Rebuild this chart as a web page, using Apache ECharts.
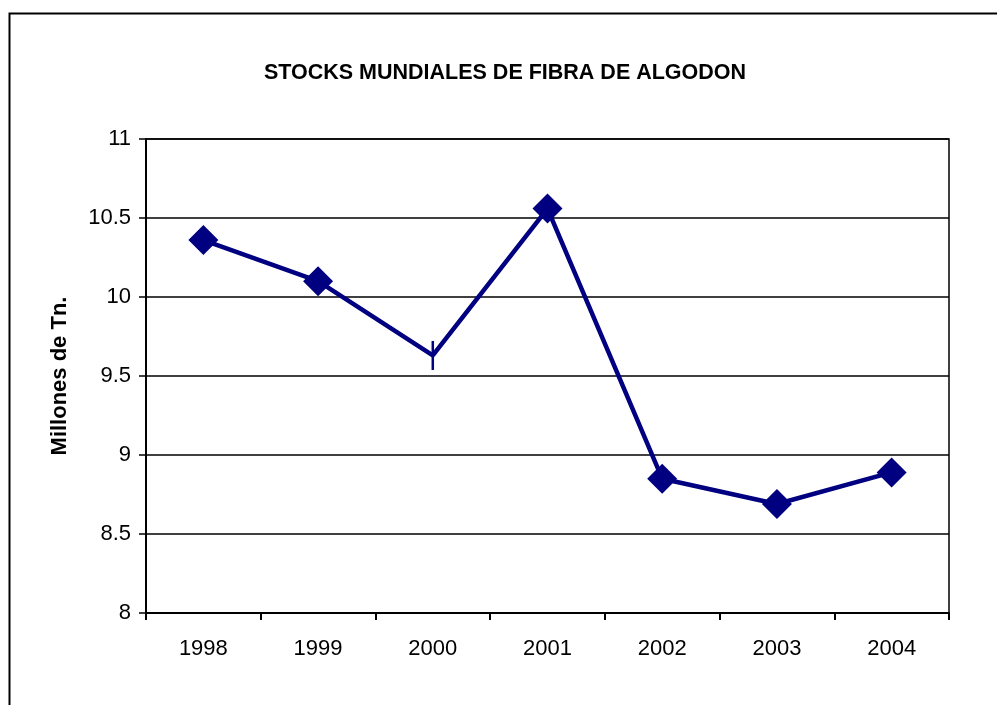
<!DOCTYPE html>
<html>
<head>
<meta charset="utf-8">
<script src="https://cdn.jsdelivr.net/npm/echarts@6/dist/echarts.min.js"></script>
<style>
  html, body { margin: 0; padding: 0; background: #fff; }
  #chart { width: 997px; height: 705px; }
</style>
</head>
<body>
<div id="chart"></div>
<script>
// Years along the bottom
var years = ['1998', '1999', '2000', '2001', '2002', '2003', '2004'];
// World cotton fibre stocks, millions of tonnes
var stocks = [10.36, 10.10, 9.63, 10.56, 8.85, 8.69, 8.89];

var chart = echarts.init(document.getElementById('chart'));

// 2000 has no diamond in the original, only a thin vertical dash
var points = stocks.map(function (v, i) {
	if (years[i] === '2000') {
		return { value: v, symbol: 'rect', symbolSize: [2.5, 29] };
	}
	return v;
});

chart.setOption({
	animation: false,
	textStyle: { fontFamily: 'Liberation Sans, Arial, sans-serif' },
	title: {
		text: 'STOCKS MUNDIALES DE FIBRA DE ALGODON',
		left: 500,
		top: 57,
		textAlign: 'center',
		textStyle: { fontSize: 21.5, fontWeight: 'bold', color: '#000' }
	},
	graphic: [
		{
			type: 'rect',
			shape: { x: 9.5, y: 13.5, width: 1100, height: 800 },
			style: { fill: 'none', stroke: '#000', lineWidth: 2 },
			silent: true
		}
	],
	grid: {
		left: 146,
		top: 139,
		width: 803,
		height: 474,
		show: true,
		borderColor: '#000',
		borderWidth: 1.5,
		backgroundColor: 'transparent'
	},
	xAxis: {
		type: 'category',
		data: years,
		boundaryGap: true,
		axisLine: { lineStyle: { color: '#000', width: 2 } },
		axisTick: { show: true, length: 7, lineStyle: { color: '#000', width: 2 } },
		axisLabel: { color: '#000', fontSize: 22, margin: 25 }
	},
	yAxis: {
		type: 'value',
		min: 8,
		max: 11,
		interval: 0.5,
		name: 'Millones de Tn.',
		nameLocation: 'middle',
		nameGap: 75,
		nameTextStyle: { fontSize: 22, fontWeight: 'bold', color: '#000' },
		axisLine: { show: true, lineStyle: { color: '#000', width: 2 } },
		axisTick: { show: true, length: 7, lineStyle: { color: '#000', width: 1.5 } },
		axisLabel: { color: '#000', fontSize: 22, margin: 15 },
		splitLine: { lineStyle: { color: '#000', width: 1.5 } }
	},
	series: [
		{
			type: 'line',
			data: points,
			symbol: 'diamond',
			symbolSize: 30,
			showAllSymbol: true,
			lineStyle: { color: '#000080', width: 4.5 },
			itemStyle: { color: '#000080', borderWidth: 0 }
		}
	]
});
</script>
</body>
</html>
